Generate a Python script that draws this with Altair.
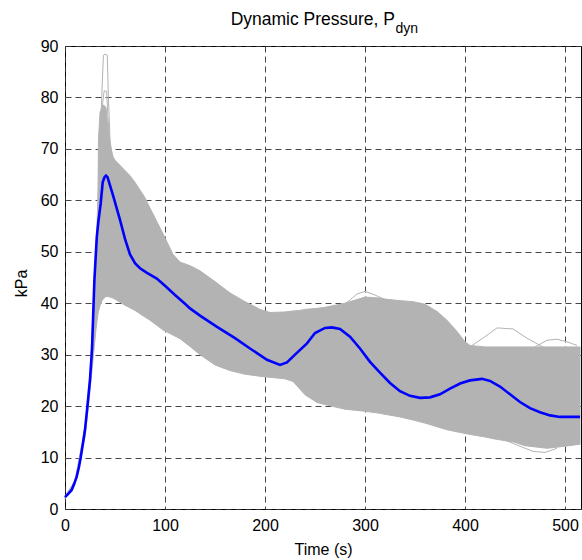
import altair as alt
import pandas as pd

# ---- nominal trajectory (blue) ----
t_nom = [0, 3, 6.7, 9, 11.7, 14, 15.7, 18, 20, 22.4, 25, 27, 29.4, 31.8, 33.4, 35.7, 37.7, 39.5, 41,
         42.5, 44.4, 48.4, 55, 60, 65, 70, 75, 82, 91.8, 100, 110, 120, 125, 135, 152, 170, 185, 202,
         215, 222, 230, 242, 250, 260, 267, 275, 285, 295, 305, 315, 325, 335, 345, 355, 365, 375,
         385, 395, 405, 417, 425, 435, 445, 455, 465, 475, 485, 495, 505, 515]
v_nom = [2.3, 2.9, 3.7, 4.8, 6.3, 8.2, 10, 12.8, 15.4, 19.9, 25.1, 31, 44.5, 52.9, 55.9, 59.4, 63.5, 64.5, 64.8,
         64.5, 63.3, 60.7, 56.2, 52.5, 49.5, 47.8, 46.8, 45.9, 44.8, 43.4, 41.6, 39.9, 39.0, 37.6, 35.4, 33.2, 31.2, 29.0,
         28.0, 28.5, 30.0, 32.2, 34.2, 35.2, 35.3, 35.0, 33.5, 31.2, 28.6, 26.5, 24.5, 22.9, 22.0, 21.6, 21.7, 22.3,
         23.4, 24.4, 25.0, 25.3, 24.9, 23.8, 22.3, 20.8, 19.6, 18.8, 18.2, 17.9, 17.9, 17.9]

# ---- Monte Carlo envelope (gray band) ----
t_env = [0, 10, 20, 25, 28, 30, 31, 32, 33, 33.5, 35, 37, 39, 41, 43, 45, 48, 50, 55, 60, 65, 70, 80, 85,
         98, 108, 115, 125, 135, 150, 165, 180, 195, 205, 220, 228, 235, 240, 252, 260, 280, 300, 315,
         320, 335, 348, 360, 372, 382, 392, 400, 405, 420, 430, 449, 460, 482, 500, 515]
v_hi = [2.5, 5.5, 16, 26.5, 38, 47, 51, 55, 62, 72, 77, 78.3, 78.5, 78, 74, 71, 68.5, 67.8, 66.8, 65.8, 64.8, 63.5, 60.5, 58.5,
        53.5, 49.5, 48, 47.3, 46.3, 44.2, 42, 40.3, 38.8, 38.2, 38.3, 38.5, 38.6, 38.8, 39, 39.2, 40, 41.2, 41,
        40.8, 40.5, 40.3, 39.8, 38.4, 36.7, 34.5, 32.5, 31.8, 31.5, 31.5, 31.5, 31.5, 31.5, 31.5, 31.5]
v_lo = [2.0, 4.8, 14, 23, 29, 33, 35, 36.5, 38, 38.5, 39.5, 40.5, 41, 41.3, 41.3, 41.2, 41, 40.8, 40.2, 39.6, 39.1, 38.6, 37.3, 36.7,
        34.8, 33.8, 33.1, 31.6, 30, 28, 26.9, 26.2, 25.8, 25.6, 25.3, 24.8, 23.3, 22.2, 20.7, 20.3, 19.4, 19, 18.6,
        18.4, 17.9, 17.3, 16.7, 16, 15.4, 15, 14.7, 14.5, 14, 13.6, 13, 12.3, 11.8, 12.2, 12.6]

# ---- individual outlier runs visible outside the dense band ----
out_ids = ["s1"] * 8 + ["s2"] * 6 + ["w1"] * 5 + ["w2"] * 6 + ["w3"] * 5 + ["b1"] * 5
out_t = [35, 36.7, 38.4, 40, 42.3, 43.4, 45, 47,
         36, 37.7, 39.2, 41.6, 43, 45,
         280, 292, 300, 310, 322,
         405, 420, 432, 448, 462, 478,
         470, 482, 492, 502, 512,
         440, 455, 468, 480, 492]
out_v = [70, 80, 88.2, 88.4, 88.2, 80, 72, 68,
         72, 79, 81.3, 81.2, 76, 70,
         39.8, 41.8, 42.3, 41.6, 40.5,
         31.5, 33.5, 35.2, 35.0, 33.2, 31.5,
         31.5, 32.8, 33.0, 32.5, 31.8,
         13.4, 12.2, 11.2, 11.0, 11.8]

nom = pd.DataFrame({"t": t_nom, "v": v_nom})
env = pd.DataFrame({"t": t_env, "lo": v_lo, "hi": v_hi})
outl = pd.DataFrame({"id": out_ids, "t": out_t, "v": out_v})

GRAY = "#b3b3b3"
FONT = "Liberation Sans"

xscale = alt.Scale(domain=[0, 516], nice=False, zero=False)
yscale = alt.Scale(domain=[0, 90], nice=False)

band = alt.Chart(env).mark_area(color=GRAY, opacity=1, stroke=GRAY, strokeWidth=1).encode(
    x=alt.X("t:Q", scale=xscale,
            axis=alt.Axis(values=[0, 100, 200, 300, 400, 500], title="Time (s)", labelFlush=False,
                          titleY=45, titleBaseline="alphabetic", labelPadding=8)),
    y=alt.Y("lo:Q", scale=yscale,
            axis=alt.Axis(values=list(range(0, 91, 10)), title="kPa", labelFlush=False,
                          titleX=-39, titleY=237, titleBaseline="alphabetic", labelPadding=7)),
    y2="hi:Q",
)

wisps = alt.Chart(outl).mark_line(color=GRAY, strokeWidth=1).encode(
    x=alt.X("t:Q", scale=xscale),
    y=alt.Y("v:Q", scale=yscale),
    detail="id:N",
)

nominal = alt.Chart(nom).mark_line(color="#0000ff", strokeWidth=2.6).encode(
    x=alt.X("t:Q", scale=xscale),
    y=alt.Y("v:Q", scale=yscale),
)

one = pd.DataFrame({"k": [0]})
title_main = alt.Chart(one).mark_text(align="right", baseline="alphabetic", fontSize=17.5,
                                      font=FONT, color="black").encode(
    x=alt.value(330), y=alt.value(-21), text=alt.value("Dynamic Pressure, P"))
title_sub = alt.Chart(one).mark_text(align="left", baseline="alphabetic", fontSize=14,
                                     font=FONT, color="black").encode(
    x=alt.value(330.5), y=alt.value(-13), text=alt.value("dyn"))

chart = alt.layer(band, wisps, nominal, title_main, title_sub).properties(
    width=516, height=463,
    autosize=alt.AutoSizeParams(type="none"),
    padding={"left": 65, "top": 46, "right": 1, "bottom": 51},
).configure_view(
    stroke="black", strokeWidth=1
).configure_axis(
    grid=True, gridColor="#333333", gridDash=[6, 4], gridWidth=1, gridOpacity=0.9,
    domain=False, ticks=False,
    labelFont=FONT, labelFontSize=16, labelColor="black",
    titleFont=FONT, titleFontSize=16, titleFontWeight="normal", titleColor="black",
)

chart.save("out.html", embed_options={"renderer": "svg", "actions": False})
